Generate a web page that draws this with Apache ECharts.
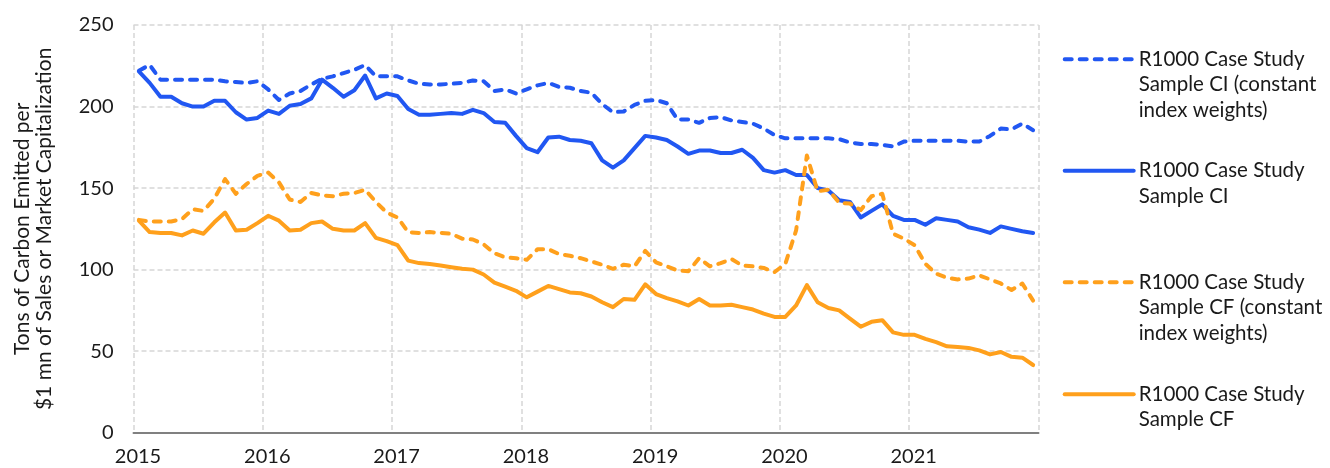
<!DOCTYPE html>
<html><head><meta charset="utf-8">
<script src="https://cdn.jsdelivr.net/npm/echarts@6/dist/echarts.min.js"></script>
<style>html,body{margin:0;padding:0;background:#fff}#c{width:1330px;height:468px}</style>
</head><body><div id="c"></div>
<script>
// Monthly observations, Jan 2015 - Dec 2021
const months = [];
for (let y = 2015; y <= 2021; y++) for (let m = 1; m <= 12; m++) months.push(y + '-' + String(m).padStart(2, '0'));

const yearTicks = [2015, 2016, 2017, 2018, 2019, 2020, 2021];

const seriesNames = [
  'R1000 Case Study Sample CI (constant index weights)',
  'R1000 Case Study Sample CI',
  'R1000 Case Study Sample CF (constant index weights)',
  'R1000 Case Study Sample CF'
];
const legendLabels = [
  'R1000 Case Study\nSample CI (constant\nindex weights)',
  'R1000 Case Study\nSample CI',
  'R1000 Case Study\nSample CF (constant\nindex weights)',
  'R1000 Case Study\nSample CF'
];

const ciConst = [222,225.5,216.5,216.5,216.5,216.5,216.5,216.5,215.5,215,214.5,215.5,
  210.5,204,208,209.5,213.5,217,218.5,220.5,222.5,225.5,218.5,218.5,
  218.5,216,214,213.5,213.5,214,214.5,216,215.5,209.5,210.5,208,
  210.5,213,214.5,212,211.5,209.5,208.5,201.5,196.5,197,201,203.5,
  204,202,192,192,190,193,193.5,191.5,190.5,189.5,186.5,182.5,
  180.5,180.5,180.5,180.5,180.5,180,178,177,177,176.5,175.5,178.5,
  179,179,179,179,179,178.5,178.5,182,186.5,186,189.5,185.5];

const ci = [221.5,214.5,206,206,202,200,200,203.5,203.5,196.5,192,193,
  197.5,195.5,200.5,201.5,205,216.5,211.5,206,210,219,205,208,
  206.5,198.5,195,195,195.5,196,195.5,198,196,190.5,190,182,
  174.5,172,181,181.5,179.5,179,177.5,167,162.5,167,174.5,182,
  181,179.5,175.5,171,173,173,171.5,171.5,173.5,168.5,161,159.5,
  161,158,158,150,148.5,142.5,141.5,132,136,140,133,130.5,
  130.5,127.5,131.5,130.5,129.5,126,124.5,122.5,126.5,125,123.5,122.5];

const cfConst = [130.5,129.5,129.5,129.5,131,137,136,143.5,155.5,146.5,152.5,157.5,
  159.5,153.5,143,141.5,147,145.5,145,146.5,147,149,141.5,135,
  132,123,122.5,123,122.5,122,119,118.5,115.5,110,107.5,107,
  106,112.5,112.5,109.5,108.5,107,105,103,100.5,103,102,111.5,
  104.5,102,99.5,99,107,102,104,106.5,102.5,102,101,98.5,
  103.5,124,170,148,149,141,140.5,136.5,145,146.5,122,119,
  115,103.5,97.5,95,94,94.5,96.5,94,91.5,87.5,91.5,81];

const cf = [130,123,122.5,122.5,121,124,122,129,135,124,124.5,128.5,
  133,130,124,124.5,128.5,129.5,125,124,124,128.5,119.5,117.5,
  115,105.5,104,103.5,102.5,101.5,100.5,100,97,92,89.5,87,
  83,86.5,90,88,86,85.5,83.5,80,77,82,81.5,91,
  85,82.5,80.5,78,82,78,78,78.5,77,75.5,73,71,
  71,78,90.5,80,76.5,75,70,65,68,69,61.5,60,
  60,57.5,55.5,53,52.5,52,50.5,48,49.5,46.5,46,41.5];

const values = [ciConst, ci, cfConst, cf];
const colors = ['#2157F2', '#2157F2', '#FFA01C', '#FFA01C'];
const dashed = [true, false, true, false];

const toX = s => { const p = s.split('-').map(Number); return p[0] + (p[1] - 0.5) / 12; };

// legend layout (icon centre y for each entry)
const legendIconY = [59.3, 170.7, 282.3, 394.3];
const LH = 25.5;

const chart = echarts.init(document.getElementById('c'), null, {renderer: 'canvas'});
const FONT = 'Lato';

chart.setOption({
  animation: false,
  textStyle: {fontFamily: FONT},
  grid: {left: 133.5, right: 291.5, top: 25, bottom: 35.3, containLabel: false, outerBoundsMode: 'none'},
  legend: seriesNames.map((n, i) => {
    const nl = legendLabels[i].split('\n').length;
    return {
      data: [n], left: 1062.7, top: legendIconY[i] - (2 * nl - 1) * LH / 2,
      orient: 'vertical', padding: 0, itemWidth: 69, itemHeight: 14, selectedMode: false,
      itemStyle: {opacity: 0},
      lineStyle: {width: 4, cap: 'round'},
      // leading blank lines keep the first text line level with the legend line
      formatter: name => {
        const lab = legendLabels[seriesNames.indexOf(name)];
        return '\n'.repeat(lab.split('\n').length - 1) + lab;
      },
      textStyle: {fontFamily: FONT, fontSize: 20.5, color: '#1a1a1a', lineHeight: LH}
    };
  }),
  xAxis: {
    type: 'value', min: 2015, max: 2022, interval: 1,
    axisLine: {show: true, onZero: true, lineStyle: {color: '#808080', width: 2}},
    axisTick: {show: false},
    axisLabel: {fontFamily: FONT, fontSize: 20, color: '#1a1a1a', margin: 14, padding: [0, 0, 0, 9],
      formatter: v => yearTicks.indexOf(v) >= 0 ? String(v) : ''},
    splitLine: {show: true, lineStyle: {color: '#d6d6d6', width: 1.5, type: [5, 3]}}
  },
  yAxis: {
    type: 'value', min: 0, max: 250, interval: 50,
    name: 'Tons of Carbon Emitted per\n$1 mn of Sales or Market Capitalization',
    nameLocation: 'middle', nameRotate: 90, nameGap: 78,
    nameTextStyle: {fontFamily: FONT, fontSize: 21, color: '#1a1a1a', lineHeight: 22},
    axisLine: {show: false}, axisTick: {show: false},
    axisLabel: {fontFamily: FONT, fontSize: 20, color: '#1a1a1a', margin: 20},
    splitLine: {show: true, lineStyle: {color: '#d6d6d6', width: 1.5, type: [5, 3]}}
  },
  series: seriesNames.map((n, i) => ({
    name: n, type: 'line', symbol: 'none', showSymbol: false,
    data: months.map((mo, k) => [toX(mo), values[i][k]]),
    itemStyle: {color: colors[i]},
    lineStyle: {color: colors[i], width: 4, type: dashed[i] ? [7, 8] : 'solid', cap: 'round', join: 'round'}
  }))
});
</script>
</body></html>
